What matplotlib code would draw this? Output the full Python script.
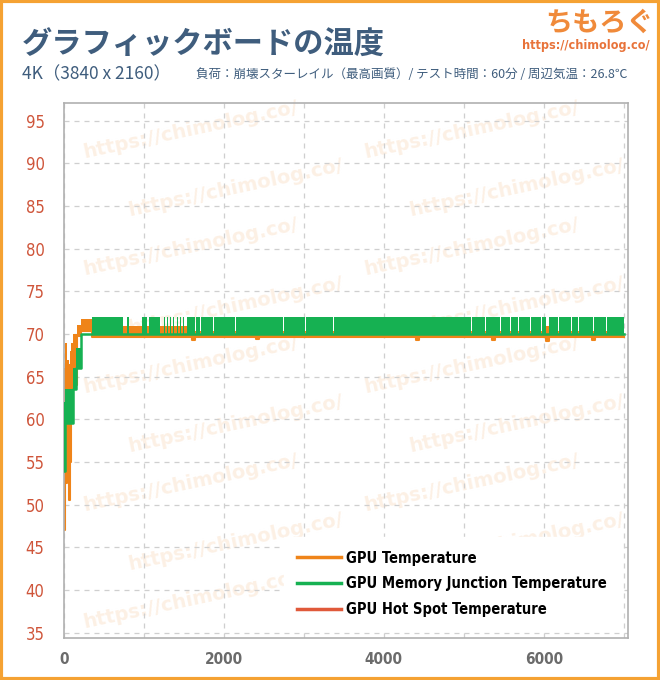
import matplotlib
matplotlib.use("Agg")
import matplotlib.pyplot as plt
from matplotlib.patches import Rectangle

# ------------------------
# DATA (min / max envelope per stretch)
# ------------------------
# GPU Temperature
orange_t  = [0, 8, 15, 40, 60, 75, 90, 115, 160, 210, 350, 1550, 1600, 1640, 2400, 2440,
             4400, 4440, 5350, 5390, 6030, 6070, 6600, 6640, 7010]
orange_lo = [47, 55, 52.5, 58, 50.6, 55, 60, 64, 69.8, 70.4, 69.6, 69.6, 69.3, 69.6, 69.4, 69.6,
             69.3, 69.6, 69.3, 69.6, 69.2, 69.6, 69.3, 69.6, 69.6]
orange_hi = [66, 64, 69, 67, 66.5, 68, 69, 70, 71, 71.7, 70.9, 70.4, 70.4, 70.4, 70.4, 70.4,
             70.4, 70.4, 70.4, 70.4, 70.9, 70.4, 70.4, 70.4, 70.4]

# GPU Memory Junction Temperature: warm-up ramp, then 70-72 toggling band
green_ramp_t  = [0, 15, 115, 155, 215]
green_ramp_lo = [54, 59.6, 63.5, 66, 70]
green_ramp_hi = [62, 63.5, 66, 68.3, 70]
band_start, band_end = 350, 7010
band_lo, band_hi = 70, 72
# stretches where the sensor stayed at 70
green_gaps = [(742, 783), (817, 971), (1042, 1067), (1200, 1250),
              (1262, 1283), (1295, 1325), (1337, 1367), (1380, 1408),
              (1420, 1450), (1462, 1492), (1505, 1533),
              (1640, 1652), (1700, 1712), (1867, 1879), (1970, 1982),
              (2137, 2149), (2533, 2545), (2742, 2754), (3013, 3025),
              (3367, 3379), (5096, 5108), (5262, 5274), (5450, 5462),
              (5575, 5587), (5679, 5691), (5825, 5837), (5971, 5983),
              (6030, 6062), (6179, 6191), (6346, 6358), (6429, 6441),
              (6617, 6629), (6783, 6795)]

# GPU Hot Spot Temperature (no readings shown in the chart)
hotspot_t = []
hotspot_v = []

series_labels = ["GPU Temperature", "GPU Memory Junction Temperature",
                 "GPU Hot Spot Temperature"]
x_ticks = [0, 2000, 4000, 6000]
y_ticks = list(range(35, 100, 5))

title = "グラフィックボードの温度"
sub_left = "4K（3840 x 2160）"
sub_right = "負荷：崩壊スターレイル（最高画質）/ テスト時間：60分 / 周辺気温：26.8℃"

# ------------------------
# BUILD GREEN STEP SERIES
# ------------------------
green_t = green_ramp_t + [band_start]
green_lo = green_ramp_lo + [band_lo]
green_hi = green_ramp_hi + [band_hi]
for g0, g1 in green_gaps:
    green_t += [g0, g1]
    green_lo += [band_lo, band_lo]
    green_hi += [band_lo, band_hi]
green_t.append(band_end)
green_lo.append(band_lo)
green_hi.append(band_hi)

# ------------------------
# PLOT
# ------------------------
ORANGE = "#ef8419"
GREEN = "#16b152"
RED = "#e0593a"
SLATE = "#3f5d7d"
narrow = dict(family="DejaVu Sans", stretch="condensed")
jp = ["Noto Sans CJK JP", "DejaVu Sans"]

fig = plt.figure(figsize=(6.6, 6.8), dpi=100)
ax = fig.add_axes([0.097, 0.062, 0.854, 0.787])

# faint watermarks, kept inside the plot area
for i in range(9):
    for j in range(2):
        ax.text(0.03 + j * 0.5 + (i % 2) * 0.08, 0.95 - i * 0.11,
                "https://chimolog.co/", transform=ax.transAxes,
                rotation=12, fontsize=14, fontweight="bold", color="#fbe6d3",
                alpha=0.6, ha="left", va="center", zorder=0)

ax.fill_between(orange_t, orange_lo, orange_hi, step="post", color=ORANGE, lw=0, zorder=2)
l1, = ax.plot(orange_t, orange_lo, drawstyle="steps-post", color=ORANGE, lw=1.5,
              label=series_labels[0], zorder=2)
ax.fill_between(green_t, green_lo, green_hi, step="post", color=GREEN, lw=0, zorder=3)
l2, = ax.plot(green_t, green_lo, drawstyle="steps-post", color=GREEN, lw=1.8,
              label=series_labels[1], zorder=3)
l3, = ax.plot(hotspot_t, hotspot_v, color=RED, lw=2, label=series_labels[2], zorder=4)

ax.set_xlim(0, 7050)
ax.set_ylim(34.4, 97.1)
ax.set_xticks(x_ticks)
ax.set_xticks(range(1000, 8000, 2000), minor=True)
ax.set_yticks(y_ticks)
ax.grid(True, which="both", ls=(0, (4, 4)), color="#cfcfcf", lw=0.9, zorder=1)
ax.set_axisbelow(True)
ax.tick_params(which="both", length=0)
ax.tick_params(axis="y", pad=14)
ax.tick_params(axis="x", pad=10)
for lab in ax.get_yticklabels():
    lab.set_fontproperties(dict(narrow, size=12))
    lab.set_color("#cf553a")
for lab in ax.get_xticklabels():
    lab.set_fontproperties(dict(narrow, size=11, weight="bold"))
    lab.set_color("#6b6b6b")
for sp in ax.spines.values():
    sp.set_color("#b0b0b0")
    sp.set_linewidth(1.2)

leg = ax.legend(handles=[l1, l2, l3], loc="lower right", bbox_to_anchor=(1.0, 0.0),
                frameon=True, fancybox=False, framealpha=1, edgecolor="white",
                handlelength=3.0, handletextpad=0.4, labelspacing=0.75,
                borderpad=0.9, prop=dict(narrow, weight="bold", size=10.5))
for h in leg.legend_handles:
    h.set_linewidth(2.5)
leg.set_zorder(5)

# titles
fig.text(0.033, 0.934, title, family=jp, fontsize=21.8, fontweight="bold",
         color=SLATE, va="center", ha="left")
fig.text(0.033, 0.891, sub_left, family=jp, fontsize=12.5, color=SLATE,
         va="center", ha="left")
fig.text(0.951, 0.891, sub_right, family=jp, fontsize=9, color=SLATE,
         va="center", ha="right")

# logo
fig.text(0.99, 0.967, "ちもろぐ", family=jp, fontsize=19.5, fontweight="bold",
         color="#f08a3a", va="center", ha="right")
fig.text(0.985, 0.933, "https://chimolog.co/", fontproperties=dict(narrow, size=9, weight="bold"),
         color="#e8733a", va="center", ha="right")

# orange frame
fig.patches.append(Rectangle((0.002, 0.002), 0.996, 0.996, transform=fig.transFigure,
                             fill=False, edgecolor="#f5a233", lw=3))

fig.savefig("out.png", dpi=100)
